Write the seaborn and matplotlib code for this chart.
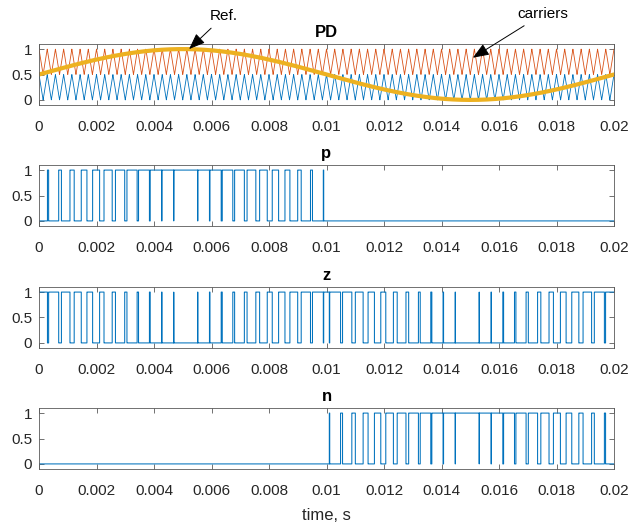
import numpy as np
import pandas as pd
import matplotlib
matplotlib.use("Agg")
import matplotlib.pyplot as plt
import seaborn as sns

# Modulation parameters of the phase-disposition (PD) PWM scheme
REF_FREQ = 50.0            # Hz, reference sine
REF_OFFSET = 0.5
REF_AMPL = 0.5
SWITCH_CARRIER_FREQ = 2400.0   # Hz, carrier used for the comparison
SWITCH_CARRIER_PEAK = 1.0 / 9600.0  # s, time of the first carrier peak
TRACE_CARRIER_FREQ = 3500.0    # Hz, carrier traces shown in the PD panel
TRACE_CARRIER_PEAK = 0.0       # s
CARRIER_LOW = [0.0, 0.5]   # lower carrier band
CARRIER_HIGH = [0.5, 1.0]  # upper carrier band
T_END = 0.02
STEP = 1e-6

PANEL_TITLES = ["PD", "p", "z", "n"]
X_TICKS = [0, 0.002, 0.004, 0.006, 0.008, 0.01, 0.012, 0.014, 0.016, 0.018, 0.02]
X_TICK_LABELS = ["0", "0.002", "0.004", "0.006", "0.008", "0.01",
                 "0.012", "0.014", "0.016", "0.018", "0.02"]
Y_TICKS = [0, 0.5, 1]
Y_TICK_LABELS = ["0", "0.5", "1"]
X_LABEL = "time, s"

BLUE = "#0072BD"
ORANGE = "#D95319"
YELLOW = "#EDB120"
AXCOL = "#262626"
BOXCOL = "#5a5a5a"


def triangle(time, freq, peak):
    """Unit triangle wave (0..1) with a peak at `peak`."""
    per = 1.0 / freq
    ph = np.mod((time - peak) / per, 1.0)
    return 1.0 - 2.0 * np.minimum(ph, 1.0 - ph)


def band(tri, lims):
    return lims[0] + (lims[1] - lims[0]) * tri


# time base and signals
t = np.arange(0, T_END + STEP / 2, STEP)
ref = REF_OFFSET + REF_AMPL * np.sin(2 * np.pi * REF_FREQ * t)

sw = triangle(t, SWITCH_CARRIER_FREQ, SWITCH_CARRIER_PEAK)
p_sig = (ref > band(sw, CARRIER_HIGH)).astype(float)
n_sig = (ref < band(sw, CARRIER_LOW)).astype(float)
z_sig = 1.0 - p_sig - n_sig

tr = triangle(t, TRACE_CARRIER_FREQ, TRACE_CARRIER_PEAK)

df = pd.DataFrame({"t": t, "ref": ref,
                   "car_low": band(tr, CARRIER_LOW),
                   "car_high": band(tr, CARRIER_HIGH),
                   "p": p_sig, "z": z_sig, "n": n_sig})

sns.set_theme(style="ticks")
plt.rcParams["font.family"] = ["Liberation Sans", "DejaVu Sans"]
plt.rcParams["axes.edgecolor"] = BOXCOL
plt.rcParams["xtick.color"] = AXCOL
plt.rcParams["ytick.color"] = AXCOL
plt.rcParams["text.color"] = AXCOL

fig = plt.figure(figsize=(6.3, 5.28), dpi=100)
W, H = 630.0, 528.0
left_px, right_px = 39, 614
tops_px = [44, 165, 287, 408]
height_px = 61

axes = []
for top in tops_px:
    ax = fig.add_axes([left_px / W, 1 - (top + height_px) / H,
                       (right_px - left_px) / W, height_px / H])
    axes.append(ax)

# PD panel: carriers and reference
ax = axes[0]
sns.lineplot(data=df, x="t", y="car_low", ax=ax, color=BLUE, lw=0.6,
             estimator=None, sort=False)
sns.lineplot(data=df, x="t", y="car_high", ax=ax, color=ORANGE, lw=0.6,
             estimator=None, sort=False)
sns.lineplot(data=df, x="t", y="ref", ax=ax, color=YELLOW, lw=3.0,
             estimator=None, sort=False)

# switching signals
for ax, col in zip(axes[1:], ["p", "z", "n"]):
    sns.lineplot(data=df, x="t", y=col, ax=ax, color=BLUE, lw=0.75,
                 estimator=None, sort=False, drawstyle="steps-post")

for ax, title in zip(axes, PANEL_TITLES):
    ax.set_xlim(0, T_END)
    ax.set_ylim(-0.1, 1.1)
    ax.set_xticks(X_TICKS)
    ax.set_xticklabels(X_TICK_LABELS)
    ax.set_yticks(Y_TICKS)
    ax.set_yticklabels(Y_TICK_LABELS)
    ax.set_xlabel("")
    ax.set_ylabel("")
    ax.tick_params(direction="in", top=True, right=True, length=3.5, width=0.6,
                   labelsize=11, color=BOXCOL, labelcolor=AXCOL)
    ax.tick_params(axis="x", pad=11)
    ax.tick_params(axis="y", pad=5)
    for s in ax.spines.values():
        s.set_visible(True)
        s.set_linewidth(0.6)
        s.set_color(BOXCOL)
    ax.set_title(title, fontsize=12, fontweight="bold", pad=5, color="black")

axes[-1].set_xlabel(X_LABEL, fontsize=12, labelpad=7)

# annotations on the PD panel
arrow = dict(arrowstyle="-|>,head_length=0.9,head_width=0.35", color="black",
             lw=0.7, shrinkA=2, shrinkB=0)
axes[0].annotate("Ref.", xy=(0.00522, 1.0), xycoords="data",
                 xytext=(224 / W, 1 - 16 / H), textcoords="figure fraction",
                 ha="center", va="center", fontsize=11, color="black",
                 arrowprops=arrow)
axes[0].annotate("carriers", xy=(0.01509, 0.83), xycoords="data",
                 xytext=(543 / W, 1 - 14 / H), textcoords="figure fraction",
                 ha="center", va="center", fontsize=11, color="black",
                 arrowprops=arrow)

fig.savefig("out.png", dpi=100, facecolor="white")
